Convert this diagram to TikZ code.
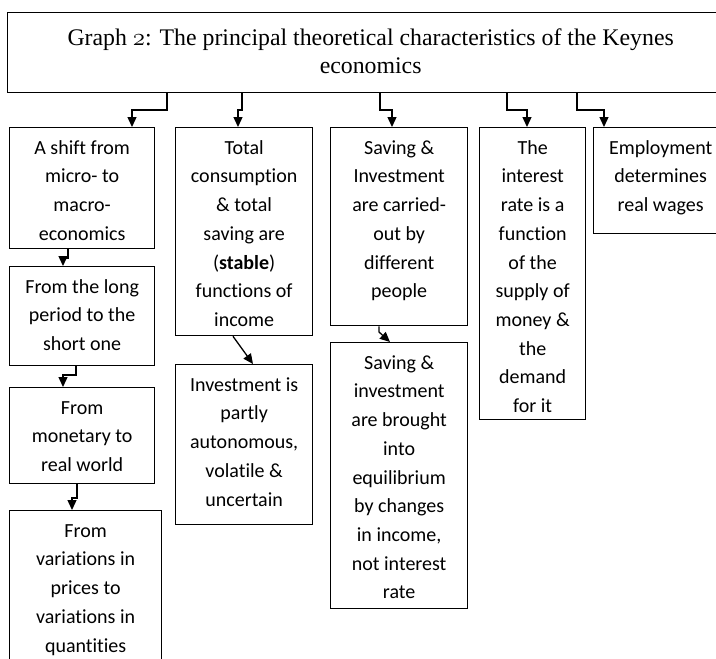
\documentclass[tikz,border=0pt]{standalone}
\usepackage{fontspec}
\setmainfont{Liberation Serif}
\newfontfamily\boxfont[Ligatures=NoCommon]{Carlito}
\usetikzlibrary{arrows.meta}
\newcommand{\firstline}{\rule{0pt}{15pt}}
\newcommand{\osttwo}{{\fontencoding{OML}\fontfamily{cmm}\fontshape{it}\selectfont 2}}
\begin{document}
\begin{tikzpicture}[x=1pt,y=-1pt,
  frame/.style={draw,line width=1.3pt,inner sep=0pt,anchor=north west},
  label/.style={font=\boxfont\fontsize{20}{28.7}\selectfont,align=center,inner sep=0pt,anchor=north},
  arr/.style={line width=1.3pt,-{Triangle[length=10pt,width=9pt]}}]
\useasboundingbox (0,0) rectangle (716,659);

% heading
\node[frame,minimum width=726pt,minimum height=80pt] (title) at (7,12) {};
\node[font=\fontsize{23.8}{28}\selectfont,align=center,inner sep=0pt,anchor=north] (titletext)
  at ([yshift=-15pt]title.north) {\rule{0pt}{18pt}Graph \osttwo: The principal theoretical characteristics of the Keynes\\economics};

% first column
\node[frame,minimum width=145pt,minimum height=121pt] (b1) at (9,127) {};
\node[label] (t1) at ([yshift=-12pt]b1.north) {\firstline A shift from\\micro- to\\macro-\\economics};
\node[frame,minimum width=145pt,minimum height=99pt] (b2) at (9,266) {};
\node[label] (t2) at ([yshift=-12pt]b2.north) {\firstline From the long\\period to the\\short one};
\node[frame,minimum width=145pt,minimum height=96pt] (b3) at (9,387) {};
\node[label] (t3) at ([yshift=-12pt]b3.north) {\firstline From\\monetary to\\real world};
\node[frame,minimum width=152pt,minimum height=170pt] (b4) at (9,510) {};
\node[label] (t4) at ([yshift=-12pt]b4.north) {\firstline From\\variations in\\prices to\\variations in\\quantities};

% second column
\node[frame,minimum width=137pt,minimum height=208pt] (b5) at (175,127) {};
\node[label] (t5) at ([yshift=-12pt]b5.north) {\firstline Total\\consumption\\\& total\\saving are\\(\textbf{stable})\\functions of\\income};
\node[frame,minimum width=137pt,minimum height=160pt] (b6) at (175,364) {};
\node[label] (t6) at ([yshift=-12pt]b6.north) {\firstline Investment is\\partly\\autonomous,\\volatile \&\\uncertain};

% third column
\node[frame,minimum width=137pt,minimum height=198pt] (b7) at (330,127) {};
\node[label] (t7) at ([yshift=-12pt]b7.north) {\firstline Saving \&\\Investment\\are carried-\\out by\\different\\people};
\node[frame,minimum width=137pt,minimum height=266pt] (b8) at (330,342) {};
\node[label] (t8) at ([yshift=-12pt]b8.north) {\firstline Saving \&\\investment\\are brought\\into\\equilibrium\\by changes\\in income,\\not interest\\rate};

% fourth and fifth columns
\node[frame,minimum width=106pt,minimum height=292pt] (b9) at (479,127) {};
\node[label] (t9) at ([yshift=-12pt]b9.north) {\firstline The\\interest\\rate is a\\function\\of the\\supply of\\money \&\\the\\demand\\for it};
\node[frame,minimum width=134pt,minimum height=106pt] (b10) at (593,127) {};
\node[label] (t10) at ([yshift=-12pt]b10.north) {\firstline Employment\\determines\\real wages};

% connectors from the heading
\draw[arr] (title.south -| 167,0) |- (132,110) -- (b1.north -| 132,0);
\draw[arr] (title.south -| 242,0) |- (238,110) -- (b5.north -| 238,0);
\draw[arr] (title.south -| 380,0) |- (392,110) -- (b7.north -| 392,0);
\draw[arr] (title.south -| 507,0) |- (527,110) -- (b9.north -| 527,0);
\draw[arr] (title.south -| 577,0) |- (604,110) -- (b10.north -| 604,0);

% connectors between boxes
\draw[arr] (b1.south -| 68,0) |- (63,258) -- (b2.north -| 63,0);
\draw[arr] (b2.south -| 76,0) |- (63,375) -- (b3.north -| 63,0);
\draw[arr] (b3.south -| 77,0) |- (72,498) -- (b4.north -| 72,0);
\draw[arr] (b5.south -| 233,0) -- (b6.north -| 253,0);
\draw[arr] (b7.south -| 379,0) -- (379,332) -- (b8.north -| 390,0);
\end{tikzpicture}
\end{document}
